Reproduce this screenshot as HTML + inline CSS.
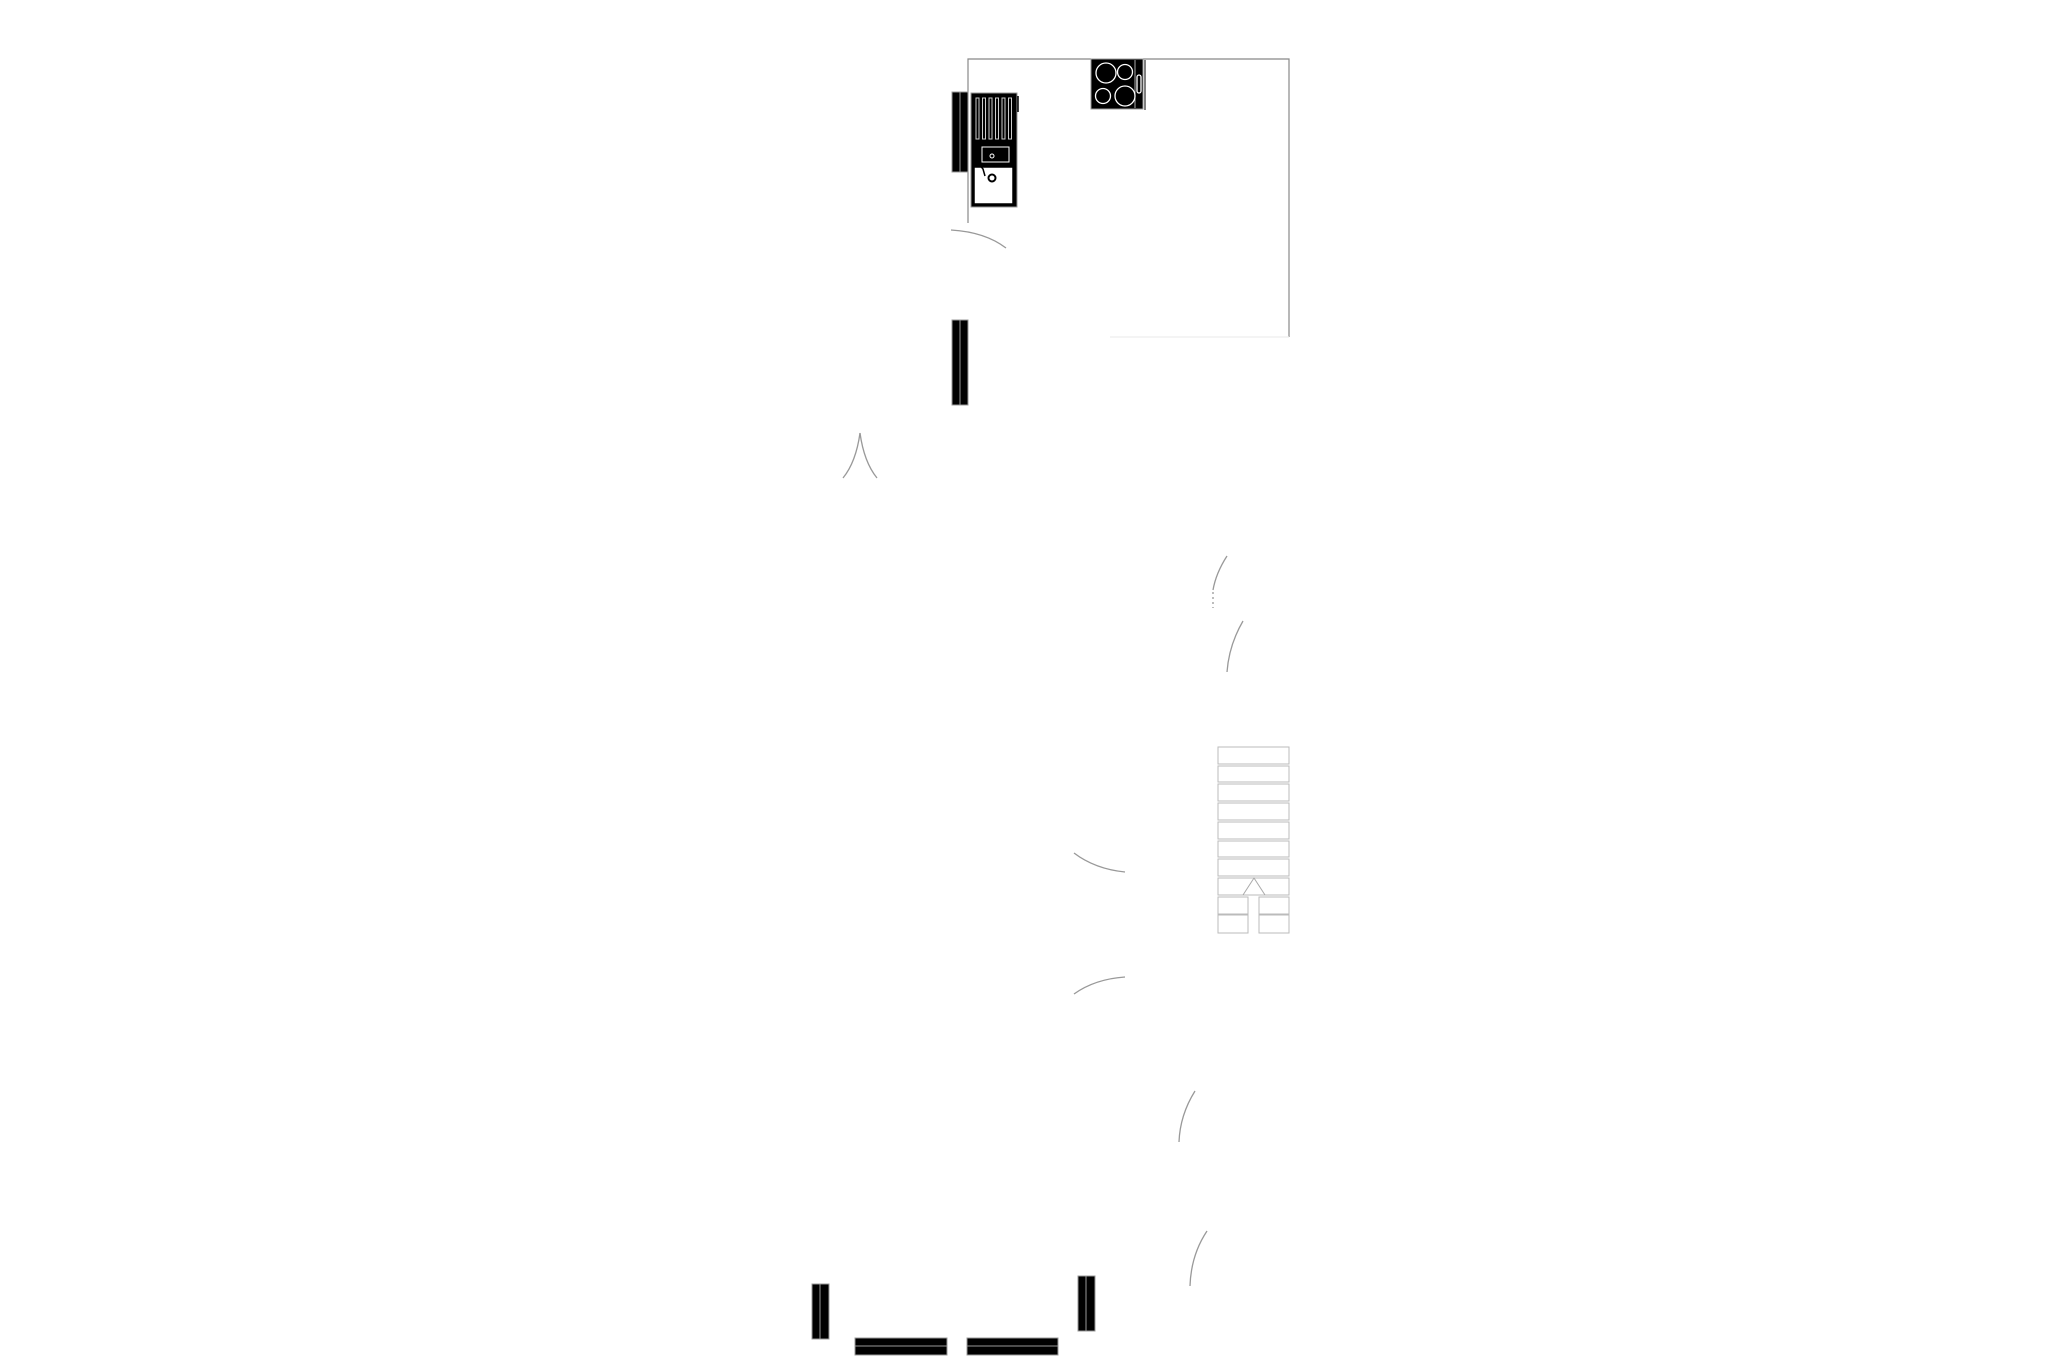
<!DOCTYPE html>
<html><head><meta charset="utf-8"><style>html,body{margin:0;padding:0;background:#fff}svg{display:block}</style></head>
<body>
<svg width="2057" height="1371" viewBox="0 0 2057 1371" xmlns="http://www.w3.org/2000/svg">
<rect width="2057" height="1371" fill="#fff"/>
<!-- kitchen walls -->
<g stroke="#888" stroke-width="1.2" fill="none">
<path d="M968 223 V59 H1091 M1143 59 H1289 V337"/>
<path d="M1110 337 H1289" stroke="#eee"/>
</g>
<!-- hob -->
<rect x="1091" y="59" width="52" height="50" fill="#000" stroke="#999"/>
<line x1="1135" y1="60" x2="1135" y2="108" stroke="#aaa"/>
<g fill="none" stroke="#fff" stroke-width="1.3">
<circle cx="1106" cy="73" r="10"/><circle cx="1125" cy="72" r="7.5"/>
<circle cx="1103" cy="96" r="7.5"/><circle cx="1125" cy="96" r="10"/>
<rect x="1137" y="75" width="4" height="18" rx="2"/>
</g>
<line x1="1145" y1="60" x2="1145" y2="110" stroke="#000" stroke-width="1"/>
<!-- sink unit -->
<rect x="971" y="93" width="46" height="114" fill="#000" stroke="#999"/>
<line x1="1018" y1="96" x2="1018" y2="112" stroke="#000" stroke-width="1.5"/>
<g fill="none" stroke="#ccc" stroke-width="1">
<rect x="976" y="98" width="3" height="41"/><rect x="982.5" y="98" width="3" height="41"/><rect x="989" y="98" width="3" height="41"/><rect x="995.5" y="98" width="3" height="41"/><rect x="1002" y="98" width="3" height="41"/><rect x="1008.5" y="98" width="3" height="41"/>
<rect x="982" y="147" width="27" height="15" stroke="#fff"/>
<circle cx="992" cy="156" r="2" stroke="#fff"/>
</g>
<rect x="974" y="167" width="39" height="37" fill="#fff" stroke="#000" stroke-width="1.5"/>
<circle cx="992" cy="178" r="3.5" fill="#fff" stroke="#000" stroke-width="2"/>
<path d="M978 163 L983 169 L985 176" stroke="#000" stroke-width="1.5" fill="none"/>
<!-- black walls -->
<g fill="#000" stroke="#999" stroke-width="1">
<rect x="952" y="92" width="8" height="80"/><rect x="960" y="92" width="8" height="80"/>
<rect x="952" y="320" width="8" height="85"/><rect x="960" y="320" width="8" height="85"/>
<rect x="812" y="1284" width="8" height="55"/><rect x="820" y="1284" width="9" height="55"/>
<rect x="855" y="1338" width="92" height="8"/><rect x="855" y="1346" width="92" height="9"/>
<rect x="967" y="1338" width="91" height="8"/><rect x="967" y="1346" width="91" height="9"/>
<rect x="1078" y="1276" width="8" height="55"/><rect x="1086" y="1276" width="9" height="55"/>
</g>
<!-- door arcs -->
<g fill="none" stroke="#999" stroke-width="1.3">
<path d="M951 230 Q985 232 1006 248"/>
<path d="M860 433 Q856 462 843 478"/>
<path d="M860 433 Q864 462 877 478"/>
<path d="M1227 556 Q1216 573 1213 590"/>
<path d="M1213 592 V608" stroke-dasharray="2 3"/>
<path d="M1243 621 Q1229 645 1227 672"/>
<path d="M1074 853 Q1095 869 1125 872"/>
<path d="M1074 994 Q1095 979 1125 977"/>
<path d="M1195 1091 Q1180 1115 1179 1142"/>
<path d="M1207 1231 Q1191 1255 1190 1286"/>
</g>
<!-- stairs -->
<g fill="none" stroke="#bbb" stroke-width="1">
<rect x="1218" y="747" width="71" height="17"/>
<rect x="1218" y="766" width="71" height="16"/>
<rect x="1218" y="784" width="71" height="17"/>
<rect x="1218" y="803" width="71" height="17"/>
<rect x="1218" y="822" width="71" height="17"/>
<rect x="1218" y="841" width="71" height="16"/>
<rect x="1218" y="859" width="71" height="17"/>
<rect x="1218" y="878" width="71" height="17"/>
<rect x="1218" y="897" width="30" height="17"/><rect x="1259" y="897" width="30" height="17"/>
<rect x="1218" y="915" width="30" height="18"/><rect x="1259" y="915" width="30" height="18"/>
<path d="M1243 895 L1254 878 L1265 895" stroke="#aaa"/>
</g>
</svg>
</body></html>
